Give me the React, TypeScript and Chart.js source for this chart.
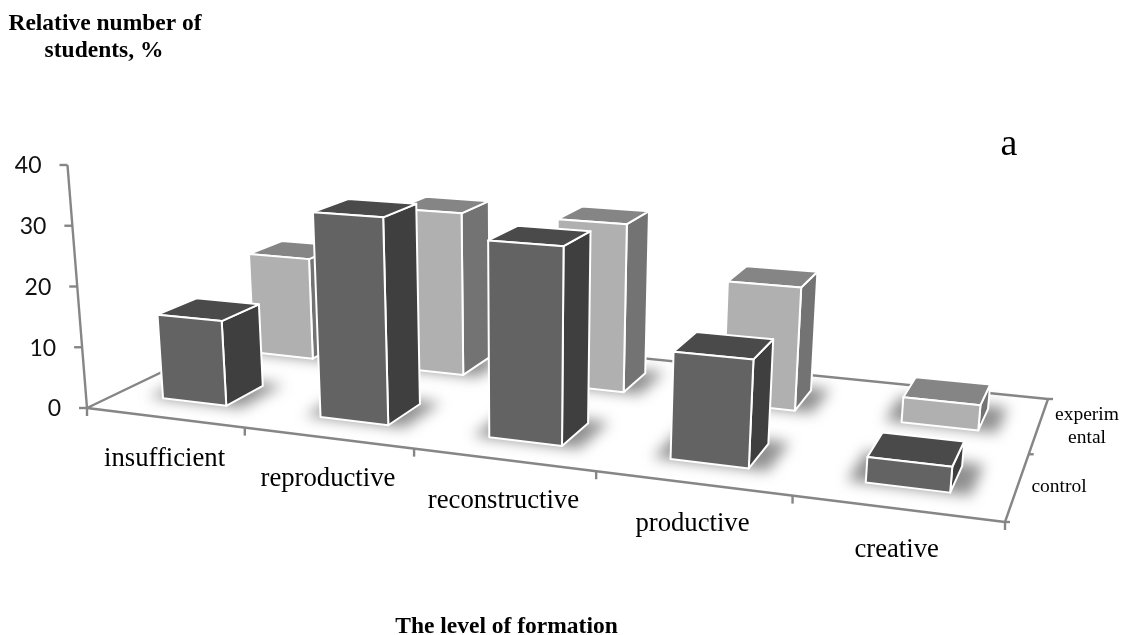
import React, { useEffect, useRef } from "react";
import { Chart, registerables } from "chart.js";

Chart.register(...registerables);

const categories = ["insufficient", "reproductive", "reconstructive", "productive", "creative"];
const controlValues = [14, 33.2, 30.8, 16.2, 3.7];
const experimentalValues = [18, 28.3, 28.5, 20.2, 4];
const depthLabels = [["control"], ["experim", "ental"]];

const BAR_HALF_U = 0.041;
const BAR_HALF_V = 0.1;
const SERIF = '"Liberation Serif", serif';

// unit square -> floor quad homography
const P00 = [87, 408], P10 = [1005, 522], P11 = [1048, 399], P01 = [269, 320.6];
const VP = [520, 5800];
const dx1 = P10[0] - P11[0], dx2 = P01[0] - P11[0], sx = P00[0] - P10[0] + P11[0] - P01[0];
const dy1 = P10[1] - P11[1], dy2 = P01[1] - P11[1], sy = P00[1] - P10[1] + P11[1] - P01[1];
const den = dx1 * dy2 - dx2 * dy1;
const G = (sx * dy2 - dx2 * sy) / den;
const H = (dx1 * sy - sx * dy1) / den;
const A = P10[0] - P00[0] + G * P10[0], B = P01[0] - P00[0] + H * P01[0], C = P00[0];
const D = P10[1] - P00[1] + G * P10[1], E = P01[1] - P00[1] + H * P01[1], F = P00[1];

type Pt = [number, number];
function project(u: number, v: number, heightPx: number): Pt {
  const w = G * u + H * v + 1;
  const x = (A * u + B * v + C) / w;
  const y = (D * u + E * v + F) / w;
  const k = heightPx / w;
  const t = k / (VP[1] - y);
  return [x + (x - VP[0]) * t, y + (y - VP[1]) * t];
}

function poly(ctx: CanvasRenderingContext2D, pts: Pt[], fill: string, stroke?: string) {
  ctx.beginPath();
  pts.forEach((p, i) => (i ? ctx.lineTo(p[0], p[1]) : ctx.moveTo(p[0], p[1])));
  ctx.closePath();
  ctx.fillStyle = fill;
  ctx.fill();
  if (stroke) {
    ctx.strokeStyle = stroke;
    ctx.lineJoin = "round";
    ctx.stroke();
  }
}

function line(ctx: CanvasRenderingContext2D, a: Pt, b: Pt) {
  ctx.beginPath();
  ctx.moveTo(a[0], a[1]);
  ctx.lineTo(b[0], b[1]);
  ctx.stroke();
}

const colours = [
  { front: "#636363", side: "#3f3f3f", top: "#4a4a4a" },
  { front: "#b0b0b0", side: "#737373", top: "#858585" },
];

const bars3d = {
  id: "bars3d",
  beforeDatasetsDraw(chart: any) {
    const ctx: CanvasRenderingContext2D = chart.ctx;
    const xs = chart.scales.x;
    const ys = chart.scales.y;
    const base = ys.getPixelForValue(0);
    const toU = (px: number) => (px - xs.left) / xs.width;
    ctx.save();

    // floor + axes
    ctx.strokeStyle = "#868686";
    ctx.lineWidth = 2.4;
    ctx.lineCap = "butt";
    poly(ctx, [project(0, 0, 0), project(1, 0, 0), project(1, 1, 0), project(0, 1, 0)], "#ffffff", "#868686");

    // value axis
    const axisTop = project(0, 0, base - ys.getPixelForValue(ys.max));
    ctx.strokeStyle = "#868686";
    line(ctx, project(0, 0, 0), axisTop);
    ctx.fillStyle = "#111111";
    ctx.font = '23px Lato, sans-serif';
    ctx.textAlign = "right";
    ctx.textBaseline = "middle";
    ys.ticks.forEach((t: any) => {
      const p = project(0, 0, base - ys.getPixelForValue(t.value));
      line(ctx, [p[0] - 8, p[1]], p);
      ctx.fillText(String(t.value), p[0] - 26, p[1] + 1);
    });

    // category axis ticks
    for (let i = 0; i <= categories.length; i++) {
      const p = project(i / categories.length, 0, 0);
      line(ctx, p, [p[0], p[1] + 8]);
    }
    // depth axis ticks
    for (let j = 0; j <= depthLabels.length; j++) {
      const p = project(1, j / depthLabels.length, 0);
      line(ctx, p, [p[0] + 5, p[1]]);
    }

    // rows: back (experimental) first
    for (let ds = chart.data.datasets.length - 1; ds >= 0; ds--) {
      const data: number[] = chart.data.datasets[ds].data;
      const v = (ds + 0.5) / chart.data.datasets.length;
      const c = colours[ds];
      const v0 = v - BAR_HALF_V, v1 = v + BAR_HALF_V;
      const us = data.map((_, i) => toU(xs.getPixelForValue(i)));

      // shadows
      ctx.save();
      ctx.filter = "blur(7px)";
      us.forEach((u) => {
        const u0 = u - BAR_HALF_U - 0.018, u1 = u + BAR_HALF_U + 0.02;
        poly(ctx, [project(u0, v0 - 0.004, 0), project(u1, v0 - 0.004, 0), project(u1, v1 + 0.03, 0), project(u0, v1 + 0.03, 0)], "rgba(70,70,70,0.6)");
      });
      ctx.restore();

      ctx.lineWidth = 2;
      data.forEach((val, i) => {
        const u = us[i];
        const u0 = u - BAR_HALF_U, u1 = u + BAR_HALF_U;
        const h = base - ys.getPixelForValue(val);
        const fbl = project(u0, v0, 0), fbr = project(u1, v0, 0), bbr = project(u1, v1, 0);
        const ftl = project(u0, v0, h), ftr = project(u1, v0, h), btr = project(u1, v1, h), btl = project(u0, v1, h);
        poly(ctx, [ftr, btr, bbr, fbr], c.side, "#ffffff");
        poly(ctx, [ftl, btl, btr, ftr], c.top, "#ffffff");
        poly(ctx, [ftl, ftr, fbr, fbl], c.front, "#ffffff");
      });
    }

    // category labels
    ctx.fillStyle = "#000000";
    ctx.font = `26.7px ${SERIF}`;
    ctx.textAlign = "center";
    ctx.textBaseline = "middle";
    categories.forEach((label, i) => {
      const p = project(toU(xs.getPixelForValue(i)), 0, 0);
      ctx.fillText(label, p[0], p[1] + 41);
    });

    // depth labels
    ctx.font = `19.5px ${SERIF}`;
    ctx.fillText(depthLabels[0][0], 1059, 487);
    ctx.fillText(depthLabels[1][0], 1087, 415);
    ctx.fillText(depthLabels[1][1], 1087, 438);

    // titles
    ctx.textBaseline = "alphabetic";
    ctx.font = `bold 23.5px ${SERIF}`;
    ctx.fillText("Relative number of", 105, 30);
    ctx.fillText("students, %", 104, 57);
    ctx.fillText("The level of formation", 506.5, 633);
    ctx.font = `38px ${SERIF}`;
    ctx.fillText("a", 1009, 155);
    ctx.restore();
    return false;
  },
};

export default function App() {
  const ref = useRef<HTMLCanvasElement>(null);
  useEffect(() => {
    document.body.style.margin = "0";
    const chart = new Chart(ref.current as HTMLCanvasElement, {
      type: "bar",
      data: {
        labels: categories,
        datasets: [
          { label: "control", data: controlValues },
          { label: "experimental", data: experimentalValues },
        ],
      },
      options: {
        animation: false,
        responsive: false,
        layout: { padding: { left: 87, right: 117, top: 165, bottom: 227 } },
        plugins: { legend: { display: false }, tooltip: { enabled: false } },
        scales: {
          x: { display: false },
          y: { display: false, min: 0, max: 40, ticks: { stepSize: 10 } },
        },
      },
      plugins: [bars3d],
    } as any);
    return () => chart.destroy();
  }, []);
  return <canvas ref={ref} width={1122} height={635} style={{ display: "block" }} />;
}
